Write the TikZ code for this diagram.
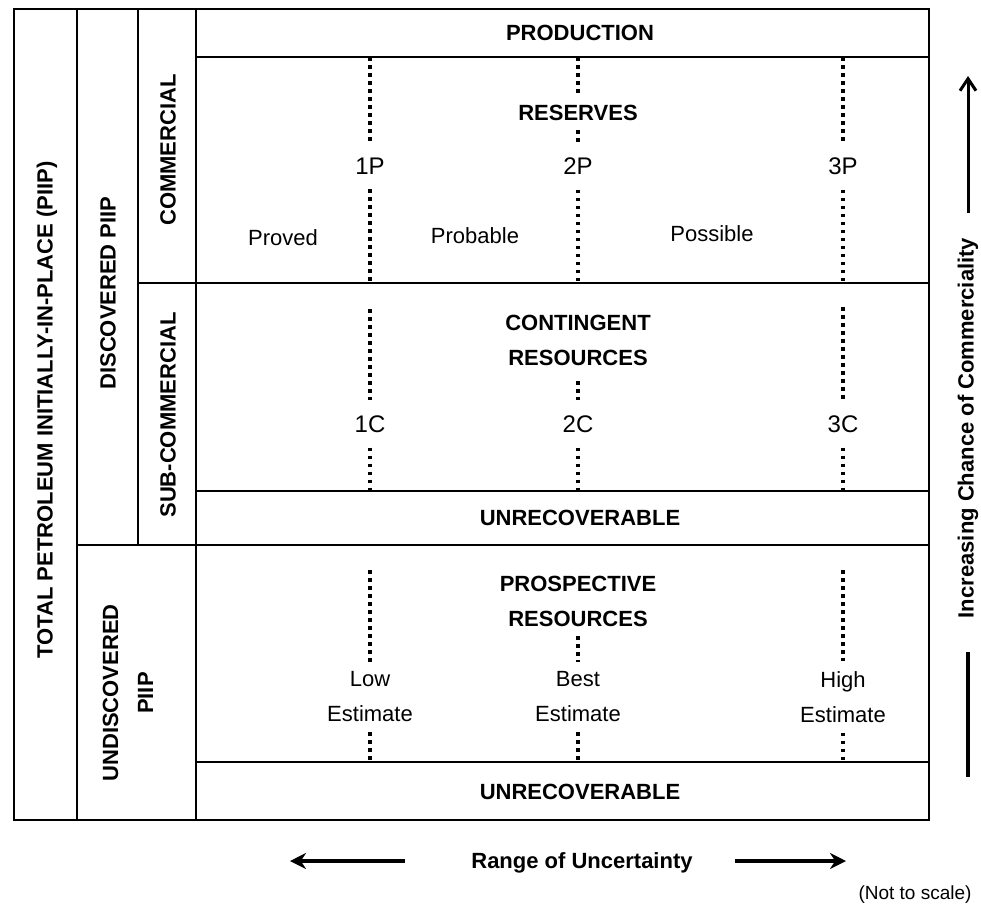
\documentclass[tikz,border=0pt]{standalone}
\usepackage{fontspec}
\setmainfont{Liberation Sans}
\usetikzlibrary{%
  arrows.meta,%
  calc%
}
\tikzset{>={Stealth[length=16pt,width=16pt]},%
  frame/.style={line width=1.8pt},
  hdr/.style={font=\fontsize{22}{35}\selectfont\bfseries,align=center},
  vhdr/.style={hdr,rotate=90},
  txt/.style={font=\fontsize{22}{35}\selectfont,align=center,inner ysep=10pt},
  cls/.style={font=\fontsize{24}{28}\selectfont,inner ysep=15pt},
  dotline/.style={line width=3.6pt,dash pattern=on 3.6pt off 4.4pt}}

\begin{document}
\begin{tikzpicture}[x=1pt,y=-1pt]
  \useasboundingbox (0,0) rectangle (981,907);
  % frame of the classes
  \draw[frame] (14,9) rectangle (929,820);
  \draw[frame] (77,9) -- (77,820);
  \draw[frame] (138,9) -- (138,545);
  \draw[frame] (196,9) -- (196,820);
  \draw[frame] (196,57) coordinate (yA) -- (929,57);
  \draw[frame] (138,283) coordinate (yB) -- (929,283);
  \draw[frame] (196,491) coordinate (yC) -- (929,491);
  \draw[frame] (77,545) coordinate (yD) -- (929,545);
  \draw[frame] (196,762) coordinate (yE) -- (929,762);
  % left column labels
  \node[vhdr] (piip) at (47,410) {TOTAL PETROLEUM INITIALLY-IN-PLACE (PIIP)};
  \node[vhdr] (disc) at (108,293) {DISCOVERED PIIP};
  \node[vhdr] (comm) at (168,150) {COMMERCIAL};
  \node[vhdr] (subc) at (168,415) {SUB-COMMERCIAL};
  \node[vhdr] (undisc) at (128,693) {UNDISCOVERED\\PIIP};
  % commercial
  \node[hdr] (prod) at (580,33) {PRODUCTION};
  \node[hdr,inner ysep=9pt] (res) at (578,113) {RESERVES};
  \node[cls] (p1) at (370,166) {1P};
  \node[cls] (p2) at (578,166) {2P};
  \node[cls] (p3) at (843,166) {3P};
  \node[txt,anchor=base] (prv) at (283,245) {Proved};
  \node[txt,anchor=base] (prb) at (475,243) {Probable};
  \node[txt,anchor=base] (pos) at (712,241) {Possible};
  \draw[dotline] (p1 |- yA) -- (p1.north);
  \draw[dotline] (p1.south) -- (p1 |- yB);
  \draw[dotline] (res |- yA) -- (res.north);
  \draw[dotline] (res.south) -- (p2.north);
  \draw[dotline] (p2.south) -- (p2 |- yB);
  \draw[dotline] (p3 |- yA) -- (p3.north);
  \draw[dotline] (p3.south) -- (p3 |- yB);
  % sub-commercial
  \node[hdr,inner ysep=16pt] (cont) at (578,340) {CONTINGENT\\RESOURCES};
  \node[cls] (c1) at (370,424) {1C};
  \node[cls] (c2) at (578,424) {2C};
  \node[cls] (c3) at (843,424) {3C};
  \draw[dotline,shorten <=26pt] (c1 |- yB) -- (c1.north);
  \draw[dotline] (c1.south) -- (c1 |- yC);
  \draw[dotline] (cont.south) -- (c2.north);
  \draw[dotline] (c2.south) -- (c2 |- yC);
  \draw[dotline,shorten <=24pt] (c3 |- yB) -- (c3.north);
  \draw[dotline] (c3.south) -- (c3 |- yC);
  \node[hdr] (unrA) at (580,518) {UNRECOVERABLE};
  % undiscovered
  \node[hdr,inner ysep=10pt] (pros) at (578,601) {PROSPECTIVE\\RESOURCES};
  \node[txt] (low) at (370,697) {Low\\Estimate};
  \node[txt] (best) at (578,697) {Best\\Estimate};
  \node[txt] (high) at (843,697) {High\\Estimate};
  \draw[dotline,shorten <=25pt] (low |- yD) -- (low.north);
  \draw[dotline] (low.south) -- (low |- yE);
  \draw[dotline] (pros.south) -- (best.north);
  \draw[dotline] (best.south) -- (best |- yE);
  \draw[dotline,shorten <=25pt] (high |- yD) -- (high.north);
  \draw[dotline] (high.south) -- (high |- yE);
  \node[hdr] (unrB) at (580,792) {UNRECOVERABLE};
  % axes
  \node[vhdr] (chance) at (968,428) {Increasing Chance of Commerciality};
  \coordinate (upA) at (968,213);
  \coordinate (upB) at (968,76);
  \draw[line width=3pt,-{Straight Barb[length=12pt,width=16pt]}] (upA) -- (upB);
  \coordinate (barA) at (968,652);
  \coordinate (barB) at (968,777);
  \draw[line width=4pt] (barA) -- (barB);
  \node[hdr,anchor=base] (range) at (582,868) {Range of Uncertainty};
  \coordinate (lA) at (405,861);
  \coordinate (lB) at (290,861);
  \coordinate (rA) at (735,861);
  \coordinate (rB) at (846,861);
  \draw[line width=4pt,->] (lA) -- (lB);
  \draw[line width=4pt,->] (rA) -- (rB);
  \node[font=\fontsize{19}{22}\selectfont,anchor=base] (scale) at (915,899) {(Not to scale)};
\end{tikzpicture}
\end{document}
